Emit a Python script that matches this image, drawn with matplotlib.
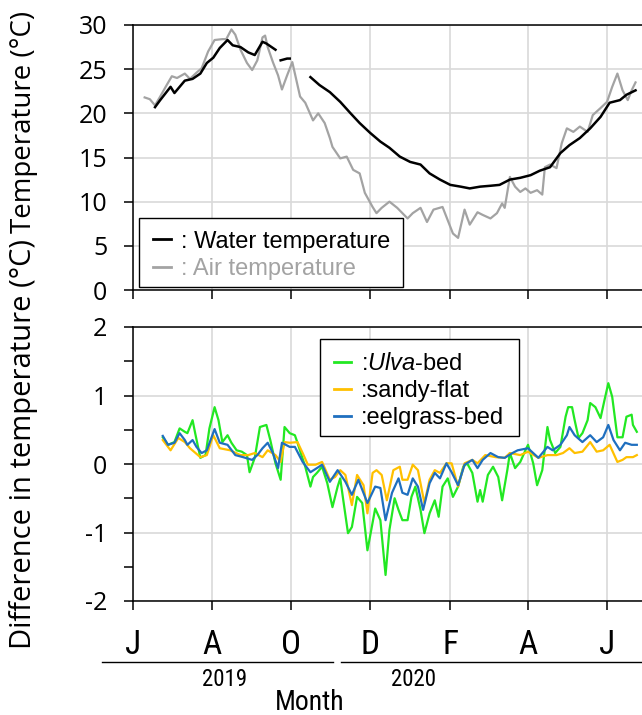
import numpy as np
import matplotlib
matplotlib.use("Agg")
import matplotlib.pyplot as plt
from matplotlib.lines import Line2D
from matplotlib.patches import Rectangle

plt.rcParams["mathtext.fontset"] = "custom"
plt.rcParams["mathtext.it"] = "Liberation Sans:italic"
plt.rcParams["mathtext.rm"] = "Liberation Sans"

nan = np.nan

# x = days since 1 Jun 2019
tick_days = [0, 61, 122, 183, 245, 305, 366]
tick_labels = ["J", "A", "O", "D", "F", "A", "J"]

# --- water / air temperature (degC) ---
water_day = [17, 21, 29, 32, 40, 46, 52, 57, 62, 67, 73, 77, 83, 89, 94, 100, 103, 107, 110, 112,
             114, 119, 121, 129, 137, 144, 152, 160, 168, 175, 183, 191, 198, 206, 214, 222, 229, 237,
             245, 253, 260, 268, 276, 283, 291, 299, 307, 314, 322, 330, 337, 345, 353, 361, 368, 376,
             381, 388]
water_t = [20.7, 21.5, 23.0, 22.3, 23.7, 23.9, 24.5, 25.7, 26.3, 27.4, 28.3, 27.7, 27.5, 26.9, 26.6,
           28.1, 27.9, 27.5, 27.2, nan, 26.0, 26.2, 26.2, nan, 24.1, 23.2, 22.4, 21.3, 20.0, 18.9,
           17.8, 16.8, 16.1, 15.1, 14.5, 14.2, 13.2, 12.5, 11.9, 11.7, 11.5, 11.7, 11.8, 11.9, 12.5,
           12.7, 13.0, 13.5, 13.9, 15.5, 16.4, 17.2, 18.3, 19.6, 21.2, 21.5, 22.1, 22.6]

air_day = [9, 13, 17, 21, 26, 30, 34, 40, 44, 49, 53, 58, 63, 69, 72, 76, 79, 83, 88, 92,
           96, 100, 102, 104, 108, 112, 115, 119, 123, 125, 129, 133, 139, 143, 148, 152, 154, 160,
           165, 170, 175, 179, 185, 188, 192, 198, 204, 212, 216, 222, 227, 232, 239, 243, 247, 251,
           256, 260, 266, 270, 276, 281, 285, 287, 291, 295, 299, 303, 307, 312, 316, 318, 322, 327,
           331, 335, 340, 345, 351, 355, 361, 366, 370, 374, 378, 382, 385, 388]
air_t = [21.8, 21.6, 20.9, 21.9, 23.2, 24.2, 24.0, 24.5, 23.9, 24.6, 25.1, 27.0, 28.3, 28.4, 28.4,
         29.5, 28.9, 27.2, 25.7, 24.9, 26.0, 28.6, 28.8, 27.5, 25.8, 24.3, 22.7, 24.3, 25.8, 24.5,
         21.9, 21.2, 19.2, 20.0, 18.9, 17.2, 16.2, 14.9, 15.1, 13.6, 13.2, 11.0, 9.4, 8.7, 9.3,
         10.0, 9.3, 8.1, 8.7, 9.3, 7.7, 9.1, 9.4, 7.9, 6.4, 5.9, 9.1, 7.4, 8.8, 8.5, 8.1, 8.7, 9.8,
         9.3, 12.8, 11.7, 11.1, 11.5, 11.0, 11.3, 10.8, 13.9, 14.2, 13.8, 16.6, 18.3, 17.9, 18.5,
         17.9, 19.8, 20.6, 21.3, 23.0, 24.5, 22.6, 21.5, 22.6, 23.5]

# --- difference in temperature (degC) ---
ulva_day = [23, 27, 32, 36, 40, 42, 46, 48, 52, 56, 59, 63, 66, 69, 73, 76, 80, 84, 88, 90,
            94, 98, 103, 106, 110, 114, 117, 121, 125, 127, 133, 137, 139, 142, 146, 150, 154, 158,
            160, 162, 166, 169, 173, 177, 181, 183, 187, 191, 195, 198, 202, 205, 208, 212, 215, 218,
            222, 225, 229, 233, 236, 239, 243, 247, 251, 255, 258, 262, 266, 268, 270, 274, 278, 282,
            285, 289, 291, 295, 299, 303, 305, 309, 312, 316, 320, 322, 326, 330, 334, 336, 339, 341,
            344, 347, 351, 353, 357, 361, 364, 367, 370, 374, 378, 381, 385, 386, 389]
ulva_v = [0.39, 0.28, 0.32, 0.52, 0.47, 0.45, 0.64, 0.45, 0.09, 0.13, 0.52, 0.83, 0.64, 0.32, 0.42,
          0.31, 0.20, 0.18, 0.13, -0.12, 0.09, 0.54, 0.57, 0.35, 0.01, -0.23, 0.54, 0.45, 0.42, 0.31,
          -0.04, -0.33, -0.19, -0.13, -0.04, -0.28, -0.63, -0.33, -0.21, -0.48, -1.01, -0.92, -0.48,
          -0.57, -1.26, -1.06, -0.65, -0.82, -1.62, -0.96, -0.50, -0.67, -0.82, -0.82, -0.48, -0.33,
          -0.67, -1.01, -0.72, -0.53, -0.77, -0.33, -0.21, -0.48, -0.33, -0.04, 0.01, -0.13, -0.55,
          -0.38, -0.55, -0.16, -0.04, -0.19, -0.53, -0.09, 0.16, -0.06, 0.03, 0.20, 0.28, 0.01, -0.31,
          -0.09, 0.54, 0.35, 0.16, 0.25, 0.69, 0.83, 0.83, 0.64, 0.38, 0.45, 0.64, 0.89, 0.83, 0.67,
          0.93, 1.18, 0.98, 0.39, 0.39, 0.69, 0.72, 0.57, 0.47]

sandy_day = [23, 29, 35, 40, 44, 52, 57, 62, 67, 75, 83, 89, 94, 100, 104, 110, 114, 117, 121, 127,
             131, 135, 141, 146, 152, 156, 160, 164, 169, 173, 178, 181, 185, 188, 192, 196, 201, 206,
             208, 212, 216, 220, 225, 229, 233, 237, 242, 246, 251, 256, 262, 266, 272, 280, 287, 291,
             299, 305, 313, 320, 327, 332, 337, 341, 347, 353, 358, 363, 368, 374, 378, 381, 386, 389]
sandy_v = [0.35, 0.20, 0.38, 0.32, 0.23, 0.10, 0.13, 0.42, 0.23, 0.20, 0.13, 0.13, 0.16, 0.10, 0.20,
           0.13, 0.03, 0.32, 0.31, 0.32, 0.16, -0.01, -0.01, 0.03, -0.23, -0.19, -0.09, -0.16, -0.60,
           -0.16, -0.31, -0.72, -0.13, -0.09, -0.16, -0.53, -0.09, -0.04, -0.23, -0.23, -0.01, -0.09,
           -0.57, -0.23, -0.09, -0.13, 0.01, 0.01, -0.33, 0.01, 0.06, 0.01, 0.13, 0.10, 0.09, 0.16,
           0.13, 0.18, 0.09, 0.13, 0.13, 0.16, 0.23, 0.16, 0.18, 0.32, 0.18, 0.20, 0.28, 0.03, 0.06,
           0.10, 0.10, 0.13]

eel_day = [23, 27, 32, 36, 40, 42, 46, 49, 53, 57, 63, 67, 73, 79, 85, 92, 96, 100, 104, 108,
           112, 115, 121, 125, 131, 137, 142, 146, 152, 158, 164, 169, 174, 181, 187, 191, 195, 200,
           205, 208, 212, 216, 220, 224, 229, 233, 237, 242, 246, 251, 256, 262, 266, 270, 276, 282,
           287, 293, 297, 305, 313, 320, 324, 330, 335, 337, 341, 347, 353, 358, 363, 367, 371, 376,
           380, 385, 389]
eel_v = [0.41, 0.28, 0.31, 0.45, 0.35, 0.28, 0.35, 0.25, 0.16, 0.20, 0.51, 0.31, 0.28, 0.13, 0.10,
         0.06, 0.13, 0.23, 0.31, 0.16, -0.06, 0.31, 0.25, 0.25, 0.03, -0.12, -0.06, -0.01, -0.26,
         -0.09, -0.26, -0.45, -0.23, -0.57, -0.33, -0.35, -0.82, -0.42, -0.21, -0.42, -0.45, -0.21,
         -0.33, -0.67, -0.28, -0.13, -0.21, 0.01, -0.12, -0.31, -0.01, 0.06, -0.06, 0.06, 0.16, 0.10,
         0.09, 0.16, 0.20, 0.23, 0.09, 0.25, 0.20, 0.28, 0.42, 0.54, 0.42, 0.32, 0.42, 0.32, 0.39,
         0.57, 0.35, 0.20, 0.31, 0.28, 0.28]

GREEN, ORANGE, BLUE = "#22e822", "#ffc000", "#1f6fbf"
GRAY = "#a3a3a3"
TICKFONT = ["Open Sans", "DejaVu Sans"]
NARROW = ["Liberation Sans Narrow", "Roboto Condensed", "Roboto", "DejaVu Sans"]
LEGFONT = ["Liberation Sans", "DejaVu Sans"]

W, H = 642, 715
fig = plt.figure(figsize=(W / 100, H / 100), dpi=100)
ax1 = fig.add_axes([133 / W, 1 - 290 / H, 509 / W, 265 / H])
ax2 = fig.add_axes([133 / W, 1 - 601 / H, 509 / W, 274 / H])

for ax in (ax1, ax2):
    ax.set_xlim(0, 393)
    ax.set_xticks(tick_days)
    ax.grid(True, color="#d9d9d9", lw=1.2)
    ax.set_axisbelow(True)
    ax.spines["right"].set_visible(False)
    for s in ("top", "left", "bottom"):
        ax.spines[s].set_linewidth(1.1)
    ax.tick_params(axis="x", direction="out", length=6.5, width=1.1)
    ax.tick_params(axis="y", direction="out", length=6.5, width=1.1, pad=12)


def boxed_legend(ax, handles, labels, anchor, box, spacing):
    leg = ax.legend(handles, labels, loc="center left", bbox_to_anchor=anchor,
                    borderaxespad=0, borderpad=0, frameon=False,
                    prop={"family": LEGFONT, "size": 17}, handlelength=0.75,
                    handletextpad=0.4, labelspacing=spacing)
    ax.add_patch(Rectangle(box[:2], box[2], box[3], transform=ax.transAxes,
                           facecolor="white", edgecolor="black", lw=1.0, zorder=4))
    leg.set_zorder(5)
    return leg


# top panel
ax1.plot(air_day, air_t, color=GRAY, lw=1.6)
ax1.plot(water_day, water_t, color="black", lw=1.8)
ax1.set_ylim(0, 30)
ax1.set_yticks(range(0, 31, 5))
ax1.set_yticklabels([str(v) for v in range(0, 31, 5)], family=TICKFONT, fontsize=18)
ax1.set_xticklabels([])

h1 = [Line2D([], [], color="black", lw=2), Line2D([], [], color=GRAY, lw=2)]
leg1 = boxed_legend(ax1, h1, [": Water temperature", ": Air temperature"],
                    (0.040, 0.131), (0.0118, 0.0113, 0.519, 0.260), 0.22)
leg1.get_texts()[1].set_color(GRAY)

# bottom panel
ax2.plot(ulva_day, ulva_v, color=GREEN, lw=1.6)
ax2.plot(sandy_day, sandy_v, color=ORANGE, lw=1.6)
ax2.plot(eel_day, eel_v, color=BLUE, lw=1.6)
ax2.set_ylim(-2, 2)
ax2.set_yticks([-2, -1, 0, 1, 2])
ax2.set_yticklabels(["-2", "-1", "0", "1", "2"], family=TICKFONT, fontsize=18)
ax2.set_yticks([-1.5, -0.5, 0.5, 1.5], minor=True)
ax2.tick_params(axis="y", which="minor", direction="out", length=6.5, width=1.1)
ax2.set_xticklabels(tick_labels, family=NARROW, fontsize=24)
ax2.tick_params(axis="x", pad=14)

h2 = [Line2D([], [], color=c, lw=2) for c in (GREEN, ORANGE, BLUE)]
boxed_legend(ax2, h2, [r":$\mathit{Ulva}$-bed", ":sandy-flat", ":eelgrass-bed"],
             (0.394, 0.766), (0.3674, 0.6022, 0.391, 0.354), 0.22)

# year brackets and axis titles
for x0, x1 in ((102, 333), (341, 642)):
    fig.add_artist(Line2D([x0 / W, x1 / W], [1 - 662 / H, 1 - 662 / H],
                          transform=fig.transFigure, color="black", lw=1.0))
fig.text(225 / W, 1 - 680 / H, "2019", ha="center", va="center", family=NARROW, fontsize=16.5)
fig.text(414 / W, 1 - 680 / H, "2020", ha="center", va="center", family=NARROW, fontsize=16.5)
fig.text(310 / W, 1 - 702 / H, "Month", ha="center", va="center", family=NARROW, fontsize=20)

fig.text(24 / W, 1 - 122 / H, "Temperature (°C)", rotation=90, ha="center", va="center",
         family=TICKFONT, fontsize=19.9)
fig.text(24 / W, 1 - 444 / H, "Difference in temperature (°C)", rotation=90, ha="center",
         va="center", family=TICKFONT, fontsize=21)

fig.savefig("out.png", dpi=100)
